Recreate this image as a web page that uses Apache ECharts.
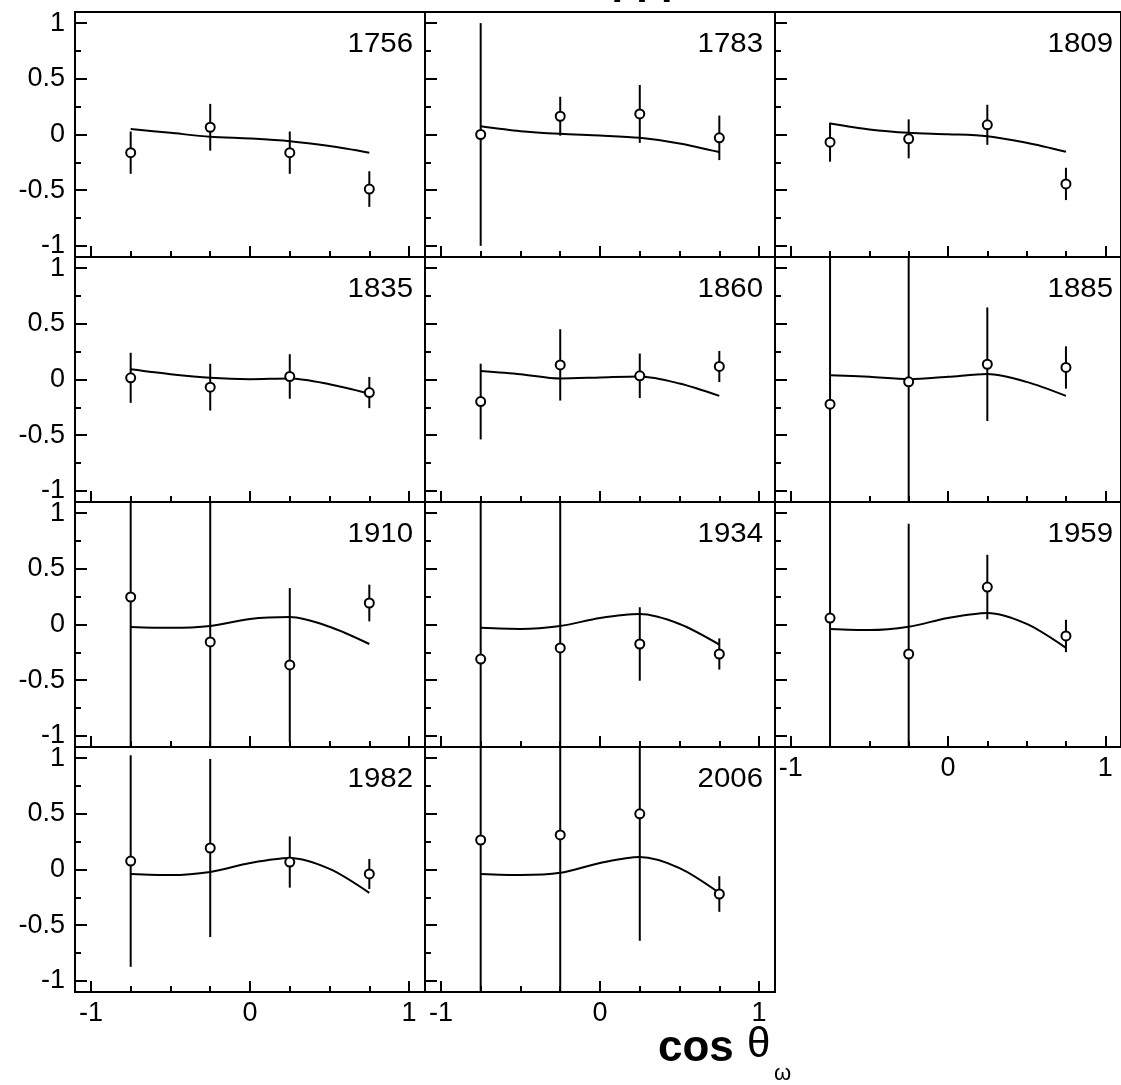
<!DOCTYPE html>
<html><head><meta charset="utf-8">
<script src="https://cdn.jsdelivr.net/npm/echarts@6/dist/echarts.min.js"></script>
<style>html,body{margin:0;padding:0;background:#fff}#c{width:1121px;height:1085px}</style>
</head><body><div id="c"></div>
<script>
const energies = ['1756','1783','1809','1835','1860','1885','1910','1934','1959','1982','2006'];
const cosTheta = [-0.75, -0.25, 0.25, 0.75];
const values = [
  [-0.163, 0.065, -0.163, -0.49],
  [0.0, 0.164, 0.185, -0.03],
  [-0.069, -0.039, 0.087, -0.444],
  [0.015, -0.069, 0.027, -0.117],
  [-0.198, 0.131, 0.033, 0.117],
  [-0.222, -0.021, 0.137, 0.108],
  [0.247, -0.157, -0.363, 0.193],
  [-0.31, -0.21, -0.175, -0.265],
  [0.058, -0.265, 0.336, -0.103],
  [0.076, 0.193, 0.067, -0.04],
  [0.265, 0.31, 0.5, -0.22]
];
const errors = [
  [0.19, 0.21, 0.19, 0.16],
  [1.0, 0.175, 0.26, 0.2],
  [0.175, 0.175, 0.18, 0.145],
  [0.225, 0.21, 0.2, 0.14],
  [0.34, 0.32, 0.2, 0.14],
  [1.5, 1.5, 0.51, 0.19],
  [1.5, 1.5, 0.69, 0.165],
  [1.5, 1.5, 0.33, 0.14],
  [1.5, 1.17, 0.29, 0.145],
  [0.95, 0.8, 0.23, 0.135],
  [1.5, 1.5, 1.14, 0.16]
];
const fitX = [-0.75, -0.5, -0.25, 0, 0.25, 0.5, 0.75];
const fits = [
  [0.05, 0.015, -0.02, -0.036, -0.06, -0.104, -0.163],
  [0.074, 0.03, 0.006, -0.009, -0.03, -0.08, -0.158],
  [0.098, 0.045, 0.015, 0.003, -0.015, -0.074, -0.155],
  [0.092, 0.048, 0.015, 0.003, 0.009, -0.042, -0.126],
  [0.077, 0.048, 0.009, 0.018, 0.027, -0.036, -0.147],
  [0.039, 0.024, 0.003, 0.024, 0.05, -0.021, -0.147],
  [-0.022, -0.03, -0.013, 0.05, 0.067, -0.02, -0.175],
  [-0.03, -0.04, -0.013, 0.058, 0.094, 0.005, -0.18],
  [-0.04, -0.05, -0.02, 0.058, 0.103, 0.005, -0.21],
  [-0.04, -0.05, -0.022, 0.058, 0.103, 0.005, -0.21],
  [-0.04, -0.05, -0.03, 0.058, 0.112, 0.013, -0.21]
];
const xMajor = [-1, 0, 1];
const xMinor = [-0.75, -0.5, -0.25, 0.25, 0.5, 0.75];
const yMajor = [-1, -0.5, 0, 0.5, 1];
const yMinor = [-0.75, -0.25, 0.25, 0.75];
const axisTitle = ['cos', 'θ', 'ω'];
const topTitle = 'ρρρ';

const FONT = '"Liberation Sans", Arial, Helvetica, sans-serif';
const L = 75, T = 12, W = 350, H = 245;
const RANGE = [-1.1, 1.1];
const grids = [], xAxes = [], yAxes = [], series = [], graphics = [];
const tickLine = {color: '#000', width: 2};
const lab = {fontSize: 27, color: '#000', fontFamily: FONT};
const noLine = {show: false, onZero: false};

energies.forEach((name, i) => {
  const r = Math.floor(i / 3), c = i % 3;
  grids.push({left: L + c * W, top: T + r * H, width: W, height: H, show: true,
    borderColor: '#000', borderWidth: 2, backgroundColor: 'transparent'});
  const showX = (r === 3) || (r === 2 && c === 2);
  const showY = c === 0;
  xAxes.push({gridIndex: i, type: 'value', min: RANGE[0], max: RANGE[1], position: 'bottom',
    axisLine: noLine, splitLine: {show: false},
    axisTick: {show: true, inside: true, length: 11, lineStyle: tickLine, customValues: xMajor},
    axisLabel: Object.assign({show: showX, customValues: xMajor, margin: 8}, lab)});
  xAxes.push({gridIndex: i, type: 'value', min: RANGE[0], max: RANGE[1], position: 'bottom',
    axisLine: noLine, splitLine: {show: false},
    axisTick: {show: true, inside: true, length: 6, lineStyle: tickLine, customValues: xMinor},
    axisLabel: {show: false, customValues: xMinor}});
  yAxes.push({gridIndex: i, type: 'value', min: RANGE[0], max: RANGE[1], position: 'left',
    axisLine: noLine, splitLine: {show: false},
    axisTick: {show: true, inside: true, length: 12, lineStyle: tickLine, customValues: yMajor},
    axisLabel: Object.assign({show: showY, customValues: yMajor, margin: 10}, lab)});
  yAxes.push({gridIndex: i, type: 'value', min: RANGE[0], max: RANGE[1], position: 'left', offset: 0,
    axisLine: noLine, splitLine: {show: false},
    axisTick: {show: true, inside: true, length: 6, lineStyle: tickLine, customValues: yMinor},
    axisLabel: {show: false, customValues: yMinor}});

  const xi = 2 * i, yi = 2 * i;
  series.push({type: 'custom', xAxisIndex: xi, yAxisIndex: yi, clip: true, silent: true, z: 2,
    data: cosTheta.map((x, k) => [x, values[i][k], errors[i][k]]),
    renderItem: (params, api) => {
      const x = api.value(0), y = api.value(1), e = api.value(2);
      const hi = Math.min(y + e, RANGE[1]), lo = Math.max(y - e, RANGE[0]);
      const p1 = api.coord([x, hi]), p2 = api.coord([x, lo]);
      return {type: 'line', shape: {x1: p1[0], y1: p1[1], x2: p2[0], y2: p2[1]},
        style: {stroke: '#000', lineWidth: 2}};
    }});
  series.push({type: 'line', xAxisIndex: xi, yAxisIndex: yi, silent: true, z: 3,
    data: fitX.map((x, k) => [x, fits[i][k]]), smooth: 0.3, symbol: 'none',
    lineStyle: {color: '#000', width: 2}});
  series.push({type: 'scatter', xAxisIndex: xi, yAxisIndex: yi, silent: true, z: 4,
    data: cosTheta.map((x, k) => [x, values[i][k]]), symbol: 'circle', symbolSize: 9,
    itemStyle: {color: '#fff', borderColor: '#000', borderWidth: 2, opacity: 1}});

  graphics.push({type: 'text', x: L + c * W + W - 12, y: T + r * H + 32, scaleX: 1.05,
    style: {text: name, fill: '#000', font: '28px ' + FONT, textAlign: 'right', textVerticalAlign: 'middle'}});
});

graphics.push({type: 'text', x: 658, y: 1049,
  style: {text: axisTitle[0], fill: '#000', font: 'bold 44px ' + FONT, textAlign: 'left', textVerticalAlign: 'middle'}});
graphics.push({type: 'text', x: 747, y: 1045,
  style: {text: axisTitle[1], fill: '#000', font: '42px ' + FONT, textAlign: 'left', textVerticalAlign: 'middle'}});
graphics.push({type: 'text', x: 774, y: 1074,
  style: {text: axisTitle[2], fill: '#000', font: '22px ' + FONT, textAlign: 'left', textVerticalAlign: 'middle'}});
graphics.push({type: 'text', x: 612, y: -17,
  style: {text: topTitle, fill: '#000', font: 'bold 40px ' + FONT, textAlign: 'left', textVerticalAlign: 'middle'}});

const chart = echarts.init(document.getElementById('c'), null, {renderer: 'canvas'});
chart.setOption({animation: false, backgroundColor: '#fff', grid: grids, xAxis: xAxes, yAxis: yAxes,
  series: series, graphic: graphics});
</script></body></html>
